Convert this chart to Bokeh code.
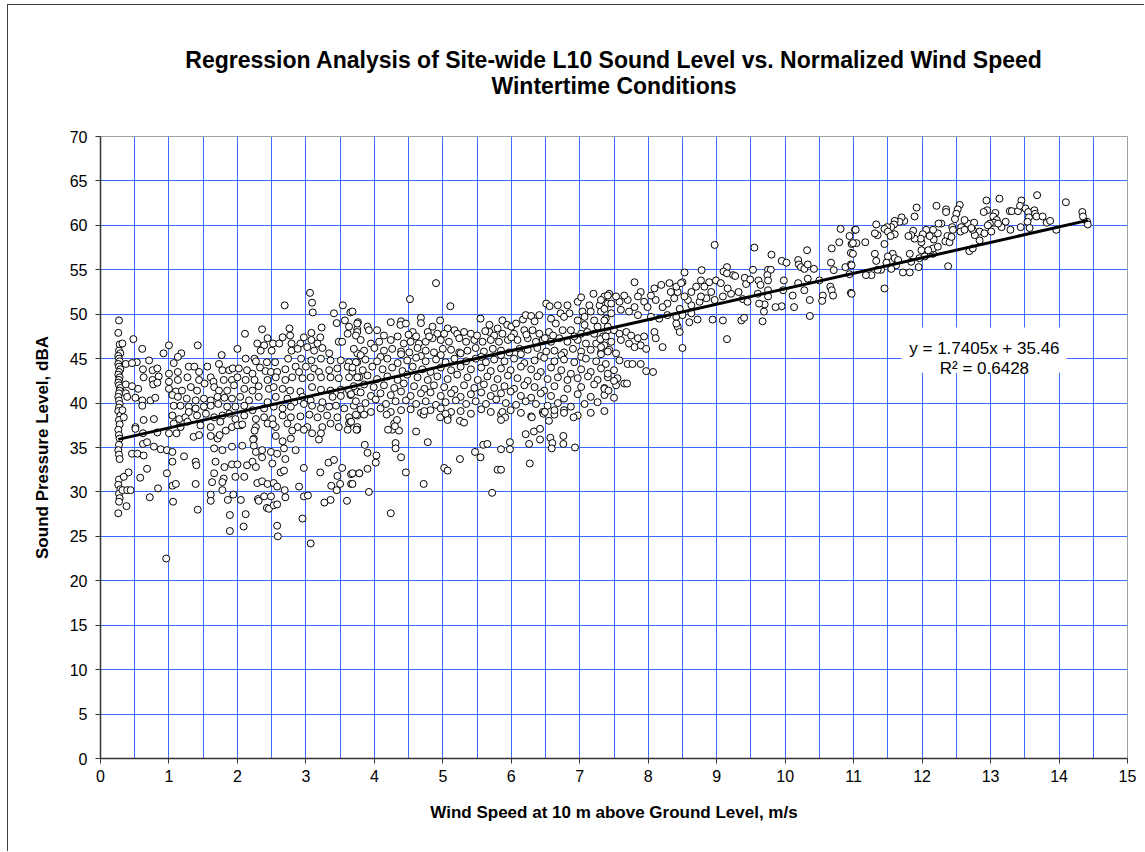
from bokeh.plotting import figure
from bokeh.models import Label, BoxAnnotation, SingleIntervalTicker, Range1d, ColumnDataSource
from bokeh.embed import file_html
from bokeh.resources import INLINE

TITLE_1 = "Regression Analysis of Site-wide L10 Sound Level vs. Normalized Wind Speed"
TITLE_2 = "Wintertime Conditions"
X_LABEL = "Wind Speed at 10 m above Ground Level, m/s"
Y_LABEL = "Sound Pressure Level, dBA"
SLOPE = 1.7405
INTERCEPT = 35.46
R_SQUARED = 0.6428
X_MIN, X_MAX, X_STEP = 0, 15, 1
Y_MIN, Y_MAX, Y_STEP = 0, 70, 5

# (wind speed m/s, sound level dBA)
calm_points = [
    (0.27,49.3),(0.26,47.9),(0.28,46.6),(0.27,45.9),(0.29,45.6),(0.26,45.3),(0.27,45.0),(0.28,44.7),
    (0.26,44.4),(0.27,44.1),(0.29,43.8),(0.27,43.5),(0.26,43.2),(0.28,42.9),(0.27,42.6),(0.26,42.3),
    (0.27,42.0),(0.29,41.7),(0.28,41.4),(0.27,41.1),(0.26,40.7),(0.27,40.3),(0.28,39.9),(0.27,39.5),
    (0.26,39.1),(0.29,38.6),(0.27,38.1),(0.28,37.6),(0.26,37.0),(0.27,36.4),(0.28,36.0),(0.27,35.3),
    (0.26,34.7),(0.27,34.2),(0.28,33.7),(0.27,31.4),(0.26,30.8),(0.29,30.3),(0.27,29.8),(0.28,29.3),
    (0.27,28.9),(0.26,27.6),
]

low_wind_upper = [
    (3.06,52.4),(2.69,51.0),(3.09,51.3),(3.10,50.2),(3.54,51.0),(3.65,50.2),(3.41,50.1),(3.57,49.3),
    (3.45,49.0),(3.76,49.1),(3.23,48.5),(3.63,48.6),(3.75,48.3),(2.11,47.8),(2.36,48.3),(2.76,48.4),
    (2.77,47.6),(3.08,47.9),(0.48,47.2),(2.44,47.3),(2.66,47.4),(2.97,47.4),(3.21,47.4),(3.61,47.8),
    (3.48,46.9),(3.53,46.9),(0.32,46.7),(1.0,46.5),(1.42,46.5),(2.29,46.7),(2.39,46.5),(2.52,46.7),
    (2.61,46.7),(2.79,46.7),(2.92,46.7),(3.08,47.1),(3.17,46.7),(0.61,46.1),(0.92,45.6),(1.18,45.6),
    (1.77,45.4),(2.0,46.1),(2.34,45.9),(2.50,45.9),(2.79,45.9),(2.88,46.1),(3.02,46.3),(3.12,45.9),
    (3.24,46.2),(3.34,45.6),(3.75,45.6),(1.13,45.2),(0.71,44.8),(0.53,44.6),(1.07,44.5),(2.12,45.0),
    (2.25,45.0),(2.27,44.7),(2.43,44.6),(2.55,44.6),(2.74,45.0),(2.93,45.0),(3.08,44.8),(3.22,45.0),
    (3.36,44.8),(3.51,44.8),(3.63,44.6),(3.75,44.6),(0.37,44.4),(0.46,44.5),(0.62,43.8),(0.76,43.7),
    (0.83,43.9),(1.0,43.3),(1.13,43.5),(1.29,44.1),(1.37,44.1),(1.44,43.5),(1.56,44.1),(1.73,44.4),
    (1.78,43.7),(1.88,43.7),(1.93,43.9),(2.02,43.9),(2.14,43.7),(2.22,43.3),(2.33,44.0),(2.41,43.6),
    (2.49,43.5),(2.58,43.5),(2.70,43.8),(2.85,44.1),(2.90,43.5),(3.0,44.1),(3.12,43.9),(3.19,43.5),
    (3.34,43.7),(3.46,43.9),(3.61,44.1),(3.68,43.5),
    (0.63,42.9),(0.76,42.6),(0.85,43.0),(1.0,42.4),(1.13,42.6),(1.27,42.9),(1.44,42.6),(1.61,42.9),
    (1.65,42.4),(1.80,42.6),(1.92,42.6),(2.0,42.9),(2.12,42.6),(2.25,42.6),(2.44,42.6),(2.56,42.9),
    (2.70,42.6),(2.80,42.9),(2.95,42.8),(3.07,42.9),(3.22,42.9),(3.36,42.9),(3.48,42.8),(3.63,42.9),
    (3.78,42.9),
    (0.37,42.1),(0.46,41.9),(0.55,41.6),(0.77,42.1),(0.83,42.3),(1.0,41.6),(1.10,41.3),(1.19,41.4),
    (1.32,41.8),(1.41,41.4),(1.52,42.2),(1.66,41.8),(1.73,41.4),(1.85,41.4),(1.95,42.0),(2.10,41.6),
    (2.22,41.4),(2.31,41.9),(2.46,41.6),(2.53,41.8),(2.66,41.6),(2.77,41.4),(2.92,41.3),(3.09,41.8),
    (3.22,41.5),(3.36,41.4),(3.51,41.5),(3.63,41.4),(3.75,41.3),
    (0.37,41.1),(0.39,40.7),(0.51,40.6),(0.61,40.3),(0.73,40.3),(0.80,40.6),(1.05,40.9),(1.13,40.7),
    (1.26,40.5),(1.39,40.3),(1.51,40.5),(1.61,40.3),(1.71,40.7),(1.81,40.6),(1.92,40.5),(2.04,40.7),
    (2.17,40.3),(2.31,40.7),(2.44,40.1),(2.56,40.7),(2.73,40.5),(2.83,40.1),(2.95,40.7),(3.07,40.3),
    (3.24,40.1),(3.39,40.7),(3.51,40.8),(3.65,40.9),
    (0.61,39.7),(1.07,39.7),(1.17,39.7),(1.29,39.6),(1.39,39.4),(1.51,39.6),(1.61,39.7),(1.72,39.9),
    (1.85,39.6),(1.97,39.6),(2.10,39.7),(2.22,39.2),(2.39,39.4),(2.53,39.6),(2.66,39.4),(2.78,39.6),
    (2.97,39.9),(3.09,39.7),(3.22,39.4),(3.34,39.6),(3.44,39.7),(3.56,39.4),(3.70,39.7),
    (0.32,39.2),(0.34,38.4),(0.63,38.1),(0.78,38.2),(1.05,38.6),(1.15,38.2),(1.24,38.4),(1.29,39.0),
    (1.41,38.6),(1.54,38.8),(1.66,38.4),(1.78,38.6),(1.88,38.8),(1.97,38.2),(2.10,38.6),(2.27,38.2),
    (2.39,38.4),(2.51,38.2),(2.66,38.6),(2.78,38.4),(2.92,38.5),(3.05,38.7),(3.17,38.4),(3.31,38.6),
    (3.46,38.4),(3.63,38.4),(3.75,38.6),
    (0.51,37.3),(1.07,37.7),(1.17,37.3),(1.27,37.9),(1.46,37.5),(1.61,37.3),(1.75,37.9),(1.92,37.3),
    (2.05,37.5),(2.27,37.3),(2.44,37.7),(2.56,37.3),(2.73,37.7),(2.88,37.3),(3.02,37.3),(3.24,37.3),
    (3.36,37.7),(3.48,37.3),(3.63,37.7),(3.75,37.3),
]

low_wind_lower = [
    (0.51,37.1),(0.62,36.6),(0.83,36.7),(1.0,36.6),(1.11,36.6),(1.36,36.2),(1.44,36.4),(1.61,36.3),
    (1.71,36.0),(1.74,36.4),(1.83,36.9),(2.0,37.5),(2.07,37.6),(2.25,36.9),(2.24,36.0),(2.52,37.6),
    (2.56,36.3),(2.66,35.7),(2.80,36.9),(2.78,36.0),(2.97,37.0),(3.09,36.6),(3.22,36.6),(3.19,35.9),
    (3.61,37.0),(3.75,37.0),(3.65,37.9),
    (0.62,35.4),(0.68,35.6),(0.78,35.1),(0.88,34.8),(0.97,34.7),(1.05,34.5),(0.46,34.3),(0.54,34.3),
    (0.63,34.1),(1.22,34.0),(1.66,34.9),(1.78,34.7),(1.92,35.1),(2.07,35.2),(2.23,35.9),(2.24,35.2),
    (2.27,34.5),(2.36,34.7),(2.49,34.5),(2.58,34.3),(2.68,34.9),(2.70,33.7),(2.85,34.7),
    (1.05,33.4),(1.39,33.4),(1.40,33.0),(1.68,33.4),(1.81,32.8),(1.92,33.1),(2.0,33.1),(2.14,33.0),
    (2.22,33.4),(2.27,32.8),(2.36,33.9),(2.51,33.2),(2.63,32.2),(2.68,32.4),(2.97,32.7),(0.68,32.6),
    (0.41,32.2),(0.34,31.7),(0.97,32.1),(0.58,31.6),(1.66,32.1),(1.63,31.1),(1.80,31.5),(1.78,31.1),
    (1.97,31.7),(2.10,31.7),(2.29,31.0),(2.36,31.2),(2.44,30.9),(2.53,31.0),(2.58,30.6),(2.69,30.2),
    (2.70,29.4),(2.90,30.6),(2.97,29.5),(3.03,29.6),(3.21,32.2),(3.33,33.3),(3.41,33.6),(3.46,31.8),
    (3.37,30.7),(3.50,30.9),(3.45,30.2),(3.53,32.7),(3.66,32.0),(3.66,30.9),(3.78,32.1),(3.60,29.0),
    (3.36,29.1),(3.27,28.8),
    (0.32,30.2),(0.39,30.2),(0.44,30.2),(0.38,28.4),(0.72,29.4),(0.84,30.4),(1.05,30.7),(1.06,28.9),
    (1.10,30.9),(1.39,30.9),(1.42,28.0),(1.61,29.7),(1.61,29.0),(1.78,30.2),(1.86,29.1),(1.94,29.7),
    (2.05,29.1),(1.89,27.4),(2.12,27.5),(2.30,29.2),(2.31,29.0),(2.39,29.5),(2.43,28.2),(2.46,28.1),
    (2.49,29.5),(2.53,28.5),(2.58,28.6),(2.58,26.2),(2.59,25.0),(1.89,25.6),(2.09,26.1),(2.95,27.0),
    (3.07,24.2),(0.96,22.5),
]

mid_wind_upper = [
    (4.90,53.5),(4.52,51.7),(5.11,50.9),(3.68,50.3),(5.55,49.5),(4.68,49.6),(4.68,49.0),(4.24,49.1),
    (4.39,49.2),(4.38,48.8),(4.46,48.95),(4.96,49.3),(4.85,48.6),(3.75,48.95),(3.90,48.6),(3.92,48.2),
    (3.75,48.0),(3.73,47.6),(4.04,48.2),(4.14,47.6),(4.56,48.0),(4.61,47.5),(4.78,48.0),(4.92,47.8),
    (5.07,48.4),(5.17,48.2),(5.21,47.8),(5.31,48.0),(5.41,47.8),(5.68,48.8),(5.80,48.4),(5.87,49.3),
    (5.94,48.8),(6.0,48.6),(6.07,48.95),(6.17,49.4),(6.21,49.9),(6.29,49.8),(6.34,49.2),(6.41,49.9),
    (6.51,51.2),(6.56,50.9),(6.68,51.0),(6.82,51.0),(6.97,51.4),(7.02,51.9),(7.20,52.3),(7.36,52.0),
    (7.43,52.3),(7.14,51.0),(7.29,51.0),(7.41,51.2),(7.31,50.3),(7.16,50.3),(7.04,50.3),(6.85,50.1),
    (6.72,50.1),(6.58,49.5),(6.65,48.95),(6.77,49.7),(6.97,49.3),(7.07,49.7),(7.21,49.3),(7.38,49.5),
    (7.07,48.8),(7.26,48.6),(7.41,48.2),(5.68,48.0),(5.75,47.6),(5.87,47.8),(6.04,47.8),(6.19,48.2),
    (6.31,48.2),(6.41,47.8),(6.55,48.0),(6.75,48.2),(6.87,48.2),(7.02,47.8),(7.21,47.8),(7.34,47.5),
    (3.80,47.1),(3.95,46.7),(4.07,46.9),(4.24,47.1),(4.34,47.5),(4.43,46.7),(4.53,46.9),(4.65,46.7),
    (4.75,46.9),(4.85,47.3),(4.97,47.1),(5.09,46.9),(5.24,47.3),(5.34,46.9),(5.46,47.1),(5.58,46.9),
    (5.70,47.1),(5.82,46.9),(5.95,47.1),(6.09,47.1),(6.24,47.3),(6.36,46.9),(6.46,47.1),(6.58,46.9),
    (6.70,47.3),(6.82,46.9),(6.97,47.1),(7.09,46.7),(7.24,46.7),(7.36,46.5),
    (3.70,46.1),(3.85,45.9),(4.0,46.2),(4.14,45.9),(4.26,46.1),(4.39,45.8),(4.51,45.7),(4.63,46.2),
    (4.75,45.9),(4.87,45.7),(5.0,46.1),(5.12,46.0),(5.24,45.7),(5.36,45.9),(5.48,46.2),(5.60,45.8),
    (5.73,46.1),(5.85,45.9),(5.97,45.7),(6.12,46.1),(6.24,46.0),(6.38,46.2),(6.51,45.8),(6.63,45.9),
    (6.77,45.7),(6.90,46.1),(7.02,45.8),(7.16,46.0),(7.31,45.7),(7.43,46.0),
    (3.80,45.4),(4.09,45.2),(4.39,45.5),(4.68,45.3),(4.97,45.4),(5.26,45.6),(5.56,45.2),(5.85,45.4),
    (6.14,45.5),(6.43,45.3),(6.73,45.4),(7.02,45.2),(7.31,45.5),
    (4.50,47.7),(4.80,47.5),(5.02,47.8),(5.50,47.6),(5.62,48.1),(6.00,47.4),(6.22,47.7),(6.49,47.3),
    (6.61,47.6),(6.92,47.5),(7.11,48.0),(7.30,47.2),
]

mid_wind_band = [
    (3.73,44.6),(3.87,44.9),(4.04,44.7),(4.19,45.0),(4.34,44.5),(4.48,44.8),(4.61,45.1),(4.75,44.7),
    (4.90,44.9),(5.04,44.6),(5.17,45.0),(5.34,44.7),(5.48,45.0),(5.63,44.6),(5.75,44.9),(5.90,44.7),
    (6.04,45.0),(6.19,44.5),(6.34,44.8),(6.48,45.1),(6.63,44.7),(6.77,44.9),(6.92,44.6),(7.09,45.0),
    (7.24,44.7),(7.38,44.4),
    (3.68,44.0),(3.83,43.7),(3.97,44.1),(4.12,43.8),(4.26,44.0),(4.41,43.6),(4.56,44.1),(4.70,43.8),
    (4.82,43.5),(4.97,44.0),(5.12,43.7),(5.26,44.1),(5.41,43.8),(5.56,44.0),(5.70,43.6),(5.85,43.9),
    (5.99,43.7),(6.14,44.1),(6.29,43.8),(6.43,43.5),(6.58,44.0),(6.73,43.7),(6.87,43.3),(7.02,43.8),
    (7.16,43.5),(7.31,43.9),
    (3.75,42.9),(3.90,43.1),(4.04,42.7),(4.19,43.0),(4.34,42.6),(4.48,43.2),(4.63,42.9),(4.78,42.6),
    (4.92,43.0),(5.07,42.7),(5.21,43.2),(5.36,42.9),(5.51,42.6),(5.65,43.0),(5.80,42.7),(5.95,43.1),
    (6.09,42.8),(6.24,42.5),(6.38,43.0),(6.53,42.7),(6.68,42.9),(6.82,42.6),(6.97,42.8),(7.12,43.0),
    (7.26,42.6),(7.41,42.9),
    (3.70,41.9),(3.85,42.1),(3.99,41.8),(4.14,42.0),(4.29,41.7),(4.43,42.2),(4.58,41.9),(4.73,41.6),
    (4.87,42.0),(5.02,41.8),(5.17,41.5),(5.31,42.0),(5.46,41.7),(5.60,42.1),(5.75,41.7),(5.90,41.9),
    (6.04,41.6),(6.19,42.0),(6.34,41.8),(6.48,41.4),(6.63,41.9),(6.82,41.6),(7.02,41.8),(7.21,42.1),
    (7.36,41.7),
    (3.66,41.0),(3.80,41.2),(3.95,40.8),(4.09,41.1),(4.24,40.9),(4.39,41.3),(4.53,40.8),(4.68,41.1),
    (4.82,41.2),(4.97,40.8),(5.12,41.1),(5.26,40.7),(5.41,41.0),(5.56,41.2),(5.70,40.8),(5.85,41.1),
    (5.99,41.3),(6.14,40.8),(6.29,40.6),(6.43,41.1),(6.58,40.8),(6.77,40.5),(6.97,41.0),(7.16,40.7),
    (7.36,40.9),
    (3.73,40.2),(3.87,40.0),(4.02,40.4),(4.17,39.9),(4.31,40.2),(4.46,40.3),(4.61,39.9),(4.75,40.2),
    (4.90,39.8),(5.04,40.1),(5.19,40.3),(5.34,39.9),(5.48,40.2),(5.63,39.9),(5.78,40.4),(5.92,40.0),
    (6.07,39.8),(6.21,40.2),(6.36,39.9),(6.53,39.7),(6.68,40.0),(6.87,39.6),(7.07,39.9),(7.26,40.1),
    (3.80,39.3),(3.95,39.0),(4.09,39.4),(4.24,39.0),(4.39,39.2),(4.53,39.3),(4.68,38.9),(4.82,39.2),
    (4.97,39.4),(5.12,39.0),(5.26,39.1),(5.41,38.8),(5.56,39.3),(5.70,39.0),(5.85,38.7),(5.99,39.2),
    (6.14,38.9),(6.29,38.5),(6.46,39.0),(6.63,38.7),(6.77,39.2),(6.97,38.6),(7.16,38.9),(7.36,39.1),
]

mid_wind_lower = [
    (3.73,38.7),(3.85,38.7),(3.66,37.9),(3.74,37.0),(4.18,38.7),(4.29,37.7),(4.33,38.1),(4.26,37.0),
    (4.36,36.9),(4.20,37.0),(4.30,37.4),(4.72,38.7),(4.73,39.1),(4.61,36.8),(4.78,35.6),(4.96,38.4),
    (5.07,38.4),(5.07,38.1),(5.04,38.8),(5.25,38.0),(5.31,37.8),(5.87,39.0),(5.91,38.4),(5.85,38.1),
    (6.30,38.4),(6.47,38.8),(6.49,39.0),(6.55,38.0),(6.63,39.2),(6.77,38.9),(6.91,38.4),(6.21,36.5),
    (6.33,36.8),(6.42,37.1),(6.26,35.4),(6.42,35.9),(6.57,36.1),(6.60,35.5),(6.59,34.9),(6.76,36.3),
    (6.76,35.4),(6.93,35.0),(5.98,35.6),(5.98,34.8),(5.85,34.8),(5.47,34.5),(5.55,33.9),(5.59,35.3),
    (5.65,35.4),(6.27,33.2),(5.80,32.5),(5.85,32.5),(5.72,29.9),(5.25,33.7),(5.02,32.7),(5.07,32.4),
    (4.72,30.9),(4.46,32.2),(4.39,33.9),(4.31,35.5),(4.31,34.9),(4.03,34.1),(4.02,33.3),(3.90,34.4),
    (3.86,35.3),(3.90,32.6),(3.68,32.1),(3.78,32.1),(3.68,30.9),(3.92,30.0),(4.24,27.6),
]

high_wind = [
    (10.81,59.6),(11.02,59.5),(10.94,58.8),(10.97,57.9),(11.04,58.0),(10.79,58.1),(10.68,57.4),(10.96,56.9),
    (10.67,55.8),(10.71,54.96),(10.88,55.3),(10.96,55.6),(10.94,54.5),(10.96,52.4),(8.97,57.8),(9.55,57.5),
    (9.80,56.7),(10.32,57.2),(10.19,56.1),(10.20,55.6),(10.23,55.3),(10.28,55.1),(10.33,55.6),(10.42,55.1),
    (9.95,56.0),(10.02,55.8),(9.53,55.0),(9.75,55.0),(9.79,55.0),(9.74,54.4),(9.15,55.3),(9.10,54.8),
    (9.15,54.6),(9.24,54.4),(9.27,54.3),(8.78,54.96),(8.53,54.7),(7.80,53.6),(8.50,53.6),(8.77,53.8),
    (8.89,53.6),(8.99,53.8),(9.06,53.5),(9.41,54.1),(9.43,53.4),(9.49,53.9),(9.61,53.8),(9.75,53.8),
    (9.64,53.3),(9.98,53.8),(10.19,53.5),(10.33,54.0),(10.50,53.8),(9.75,52.7),(9.97,52.7),(10.11,52.1),
    (10.28,52.7),(10.66,53.1),(10.68,52.7),(10.70,52.1),(10.55,52.1),(10.54,51.5),(10.36,51.6),(10.13,50.8),
    (9.95,50.9),(9.86,50.8),(9.70,51.1),(9.69,50.3),(9.67,49.2),(10.36,49.8),(9.38,51.7),(9.45,51.4),
    (9.36,49.3),(9.40,49.6),(9.62,51.2),(9.60,52.3),(9.75,52.0),(9.09,49.3),(8.94,49.4),(9.15,47.2),
    (9.21,52.3),(9.16,52.9),(9.32,52.5),(9.09,52.0),(8.97,51.6),(8.85,51.8),(8.75,51.4),(8.63,51.0),
    (8.58,51.6),(8.77,52.0),(8.92,52.5),(8.63,52.5),(8.70,53.1),(8.82,53.1),(8.43,52.5),(8.53,52.0),
    (8.38,51.8),(8.33,52.5),(8.28,51.2),(8.21,50.8),(8.11,51.6),(8.04,52.1),(8.09,52.9),(8.19,53.3),
    (8.31,53.5),(8.41,53.1),(8.48,53.5),(7.89,52.5),(7.85,52.0),(7.94,51.4),(7.99,50.8),(7.80,50.8),
    (7.70,51.6),(7.65,52.1),(7.58,51.4),(7.53,52.0),(7.46,51.2),(7.41,52.1),(7.31,51.6),(7.36,50.6),
    (7.46,50.1),(7.60,50.5),(7.72,50.3),(7.85,49.9),(8.04,49.7),(8.16,49.5),(8.28,49.9),(8.41,49.7),
    (8.50,49.9),(8.60,49.1),(8.72,49.4),(8.63,50.1),(8.46,50.6),
    (7.36,49.3),(7.41,48.6),(7.50,48.2),(7.58,47.8),(7.68,48.0),(7.75,47.6),(7.85,47.3),(7.94,47.5),
    (7.38,47.5),(7.46,46.9),(7.60,47.1),(7.72,46.7),(7.80,46.3),(7.89,46.5),(7.97,46.1),(8.09,48.0),
    (8.11,47.3),(8.21,46.3),(8.43,48.6),(8.46,48.0),(8.41,48.95),(7.31,46.3),(7.41,45.8),(7.53,45.6),
    (7.58,44.8),(7.70,44.4),(7.77,44.4),(7.89,44.4),(7.97,43.6),(8.07,43.5),(7.50,43.7),(7.41,43.3),
    (7.55,42.8),(7.65,42.2),(7.53,42.0),(7.36,41.6),(8.50,46.2),(7.50,42.5),(7.42,41.4),(7.50,40.6),
    (7.69,42.2),
]

top_wind = [
    (13.68,63.4),(13.13,63.0),(12.94,62.8),(13.45,62.8),(14.10,62.6),(12.21,62.2),(12.55,62.3),(12.52,61.8),
    (12.50,61.3),(12.35,61.8),(12.35,61.5),(11.92,62.0),(11.89,61.0),(12.95,61.7),(12.90,61.5),(13.07,61.4),
    (13.04,61.0),(13.09,60.6),(13.05,60.3),(12.99,60.2),(13.28,61.6),(13.31,61.6),(13.40,61.6),(13.43,62.2),
    (13.51,61.9),(13.55,61.5),(13.64,61.7),(13.65,61.3),(13.67,61.0),(13.56,60.9),(13.54,60.4),(13.76,61.0),
    (13.82,60.3),(13.87,60.5),(14.34,61.5),(14.35,61.0),(14.41,60.4),(14.42,60.1),(13.96,59.5),(13.57,59.7),
    (13.44,59.8),(13.29,59.5),(13.22,60.4),(13.16,59.8),(13.11,60.2),(12.96,60.0),
    (13.01,59.3),(12.84,59.3),(12.91,59.1),(12.84,58.3),(12.77,58.9),(12.74,59.5),(12.67,60.2),(12.62,60.6),
    (12.76,60.3),(12.72,59.7),(12.57,59.8),(12.56,59.3),(12.62,59.5),(12.44,59.8),(12.48,60.7),(12.45,59.5),
    (12.37,58.8),(12.34,58.2),(12.40,58.1),(12.43,58.7),(12.28,60.2),(12.24,60.2),(12.23,59.1),(12.16,59.5),
    (12.17,58.4),(12.11,58.8),(12.06,59.5),(12.01,59.0),(11.99,58.1),(11.99,57.2),(11.98,58.5),(11.87,59.4),
    (11.89,58.5),(11.84,58.9),(11.80,58.8),(11.74,60.5),(11.70,60.9),(11.67,60.4),(11.60,60.5),(11.59,60.1),
    (11.55,59.8),(11.49,59.8),(11.45,59.6),(11.50,59.3),(11.60,59.0),(11.54,58.8),(11.45,57.9),(11.33,60.1),
    (11.35,58.9),(11.31,59.1),(11.17,58.1),(11.03,59.5),(10.99,58.0),
    (12.69,57.1),(12.74,57.4),(12.38,55.4),(12.16,56.8),(12.13,57.2),(12.16,57.4),(11.96,56.3),(11.95,55.3),
    (11.82,56.8),(11.82,54.7),(11.72,54.7),(11.62,55.5),(11.57,56.8),(11.60,56.3),(11.50,56.5),(11.48,55.8),
    (11.40,55.0),(11.35,55.0),(11.33,56.0),(11.31,56.8),(11.26,54.4),(11.18,54.4),(11.45,52.9),(10.99,56.8),
    (10.97,55.5),(10.97,52.3),(11.55,55.1),(11.65,56.1),(11.84,55.9),(12.04,56.5),(12.23,57.6),(12.09,57.2),
]

all_points = calm_points + low_wind_upper + low_wind_lower + mid_wind_upper + mid_wind_band + mid_wind_lower + high_wind + top_wind
wind_speed = [p[0] for p in all_points]
sound_level = [p[1] for p in all_points]

FONT = "Liberation Sans"
GRID_BLUE = "#3D6BFF"
AXIS_COLOR = "#333333"

p = figure(width=1137, height=847, output_backend="svg", toolbar_location=None,
           x_range=Range1d(X_MIN, X_MAX), y_range=Range1d(Y_MIN, Y_MAX),
           min_border_left=92, min_border_right=18, min_border_top=131, min_border_bottom=94,
           background_fill_color="white", border_fill_color="white")
p.styles = {"border-left": "1px solid #404040", "border-top": "1px solid #404040",
            "margin-left": "7px", "margin-top": "4px"}
p.outline_line_color = "#A0A0A0"
p.outline_line_width = 1

p.title.text = TITLE_1 + "\n" + TITLE_2
p.title.align = "center"
if "text_align" in p.title.properties():
    p.title.text_align = "center"
p.title.text_font = FONT
p.title.text_font_size = "23px"
p.title.text_font_style = "bold"
p.title.text_color = "black"
p.title.text_line_height = 1.0
p.title.standoff = 76

xt = SingleIntervalTicker(interval=X_STEP, num_minor_ticks=2)
yt = SingleIntervalTicker(interval=Y_STEP, num_minor_ticks=0)
p.xaxis.ticker = xt
p.yaxis.ticker = yt
p.xgrid.ticker = xt
p.ygrid.ticker = yt
p.xgrid.grid_line_color = GRID_BLUE
p.xgrid.minor_grid_line_color = GRID_BLUE
p.ygrid.grid_line_color = GRID_BLUE
p.xgrid.grid_line_width = 1
p.ygrid.grid_line_width = 1

for ax in (p.xaxis[0], p.yaxis[0]):
    ax.axis_line_color = AXIS_COLOR
    ax.axis_line_width = 1.5
    ax.major_tick_line_color = AXIS_COLOR
    ax.major_tick_out = 5
    ax.major_tick_in = 0
    ax.minor_tick_line_color = None
    ax.major_label_text_font = FONT
    ax.major_label_text_font_size = "16px"
    ax.major_label_text_color = "black"
    ax.axis_label_text_font = FONT
    ax.axis_label_text_font_size = "17px"
    ax.axis_label_text_font_style = "bold"
    ax.axis_label_text_color = "black"

p.xaxis.axis_label = X_LABEL
p.yaxis.axis_label = Y_LABEL
p.xaxis.major_label_standoff = 6
p.yaxis.major_label_standoff = 8
p.xaxis.axis_label_standoff = 18
p.yaxis.axis_label_standoff = 15

src = ColumnDataSource(dict(x=wind_speed, y=sound_level))
p.scatter("x", "y", source=src, marker="circle", size=7, fill_color="white",
          line_color="black", line_width=1)

x_fit = [min(wind_speed), max(wind_speed)]
y_fit = [SLOPE * v + INTERCEPT for v in x_fit]
p.line(x_fit, y_fit, line_color="black", line_width=3)

p.add_layout(BoxAnnotation(left=11.70, right=14.11, top=48.5, bottom=43.4,
                           fill_color="white", fill_alpha=1.0, line_color=None))
p.add_layout(Label(x=12.91, y=46.14, text=f"y = {SLOPE}x + {INTERCEPT}", text_align="center",
                   text_baseline="alphabetic", text_font=FONT, text_font_size="17px", text_color="black"))
p.add_layout(Label(x=12.91, y=43.89, text=f"R\u00b2 = {R_SQUARED}", text_align="center",
                   text_baseline="alphabetic", text_font=FONT, text_font_size="17px", text_color="black"))

open("out.html", "w").write(file_html(p, INLINE))
